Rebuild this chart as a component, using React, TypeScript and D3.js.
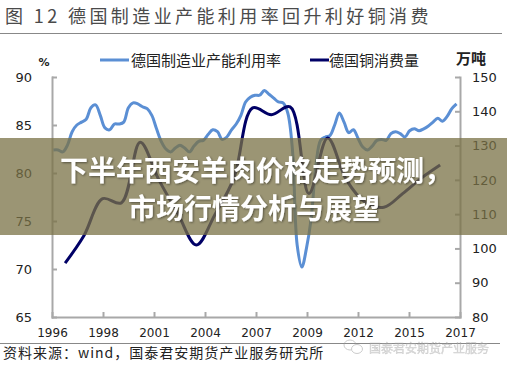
import * as d3 from "d3";
import React from "react";

// 德国制造业产能利用率（季度，%）
const utilStart = 1995.375;
const utilValues = [
  82.4, 82.4, 82.2, 82.9, 84.3, 85.0, 85.3, 85.6, 86.8, 87.1,
  86.0, 84.7, 84.5, 85.1, 85.1, 85.3, 86.8, 87.3, 87.2, 86.9,
  86.7, 86.0, 84.6, 83.3, 82.5, 82.2, 82.6, 82.9, 82.6, 82.2,
  82.8, 83.3, 83.4, 84.0, 84.5, 84.3, 83.5, 83.75, 84.5, 85.1,
  86.0, 87.4, 87.9, 88.1, 88.1, 88.6, 88.2, 87.8, 87.4, 87.3,
  86.25, 82.4, 72.5, 70.2, 72.2, 75.3, 80.8, 83.4, 83.75, 83.9,
  85.0, 86.25, 85.3, 84.2, 84.5, 83.6, 82.7, 82.4, 82.8, 83.4,
  83.5, 83.4, 84.1, 84.3, 84.1, 83.75, 84.4, 84.6, 84.4, 84.6,
  84.9, 85.3, 85.7, 85.4, 85.9, 86.7, 87.2,
];

// 德国铜消费量（年度，万吨）
const copperYears = d3.range(1996, 2017);
const copperValues = [
  95.7, 103.7, 114.5, 113.3, 131, 120, 110.3, 101, 110, 120.5,
  141, 139, 141.3, 116, 132.2, 120, 113.5, 112, 116, 120.5, 124.3,
];

const xTickLabels = ["1996", "1998", "2001", "2004", "2007", "2009", "2012", "2015", "2017"];
const leftTicks = [65, 70, 75, 80, 85, 90];
const rightTicks = [80, 90, 100, 110, 120, 130, 140, 150];

const W = 507;
const H = 374;
const numFont = "'DejaVu Sans', sans-serif";
const cjkFont = "'Noto Sans CJK SC', sans-serif";

export default function App() {
  const ref = React.useRef<SVGSVGElement>(null);

  React.useEffect(() => {
    if (!ref.current) return;
    const svg = d3.select(ref.current);
    svg.selectAll("*").remove();

    const left = 52;
    const right = 460;
    const top = 77;
    const bottom = 317;

    const x = d3.scaleLinear().domain([1995.3, 2017.06]).range([left, right]);
    const xCat = d3.scalePoint<string>().domain(xTickLabels).range([left, right]);
    const yL = d3.scaleLinear().domain([65, 90]).range([bottom, top]);
    const yR = d3.scaleLinear().domain([80, 150]).range([bottom, top]);

    svg.append("rect").attr("width", W).attr("height", H).attr("fill", "#fff");

    const defs = svg.append("defs");
    const f = defs.append("filter").attr("id", "sh").attr("x", "-5%").attr("y", "-20%")
      .attr("width", "110%").attr("height", "140%");
    f.append("feDropShadow").attr("dx", 1).attr("dy", 1).attr("stdDeviation", 1)
      .attr("flood-color", "#000").attr("flood-opacity", 0.45);

    // 标题
    svg.append("text")
      .attr("x", 5).attr("y", 23)
      .attr("font-family", cjkFont).attr("font-size", 18).attr("fill", "#4a4a4a")
      .attr("letter-spacing", 3.4)
      .text("图 12  德国制造业产能利用率回升利好铜消费");
    svg.append("line").attr("x1", 0).attr("x2", 502).attr("y1", 33.5).attr("y2", 33.5)
      .attr("stroke", "#888").attr("stroke-width", 1);

    // 图例
    const lg = svg.append("g").attr("font-family", cjkFont).attr("font-size", 15).attr("fill", "#222");
    lg.append("line").attr("x1", 100).attr("x2", 129).attr("y1", 60).attr("y2", 60)
      .attr("stroke", "#5b8fd4").attr("stroke-width", 3);
    lg.append("text").attr("x", 131).attr("y", 65.5).text("德国制造业产能利用率");
    lg.append("line").attr("x1", 310).attr("x2", 329).attr("y1", 60).attr("y2", 60)
      .attr("stroke", "#000066").attr("stroke-width", 3);
    lg.append("text").attr("x", 329).attr("y", 65.5).text("德国铜消费量");
    svg.append("text").attr("x", 44).attr("y", 66).attr("text-anchor", "middle")
      .attr("font-family", numFont).attr("font-size", 11).attr("font-weight", "bold")
      .attr("fill", "#222").text("%");
    svg.append("text").attr("x", 471).attr("y", 64).attr("text-anchor", "middle")
      .attr("font-family", cjkFont).attr("font-size", 15).attr("font-weight", "bold")
      .attr("fill", "#222").text("万吨");

    // 坐标轴
    const styleAxis = (g: d3.Selection<SVGGElement, unknown, null, undefined>) => {
      g.selectAll("path, line").attr("stroke", "#a8a8a8").attr("stroke-width", 2);
      g.selectAll("text").attr("font-family", numFont).attr("font-size", 13).attr("fill", "#222");
    };
    svg.append("g").attr("transform", `translate(${left},0)`)
      .call(d3.axisLeft(yL).tickValues(leftTicks).tickSize(-5).tickSizeOuter(0).tickPadding(20))
      .call(styleAxis);
    svg.append("g").attr("transform", `translate(${right},0)`)
      .call(d3.axisRight(yR).tickValues(rightTicks).tickSize(-5).tickSizeOuter(0).tickPadding(12))
      .call(styleAxis);
    svg.append("g").attr("transform", `translate(0,${bottom})`)
      .call(d3.axisBottom(xCat).tickSize(-5).tickSizeOuter(0).tickPadding(11))
      .call(styleAxis)
      .selectAll("text").attr("font-size", 12);
    svg.selectAll(".domain").attr("stroke-linecap", "square");

    // 线
    const utilLine = d3.line<number>()
      .x((_, i) => x(utilStart + i * 0.25))
      .y((d) => yL(d))
      .curve(d3.curveCatmullRom.alpha(0.5));
    svg.append("path").datum(utilValues).attr("d", utilLine)
      .attr("fill", "none").attr("stroke", "#5b8fd4").attr("stroke-width", 3)
      .attr("stroke-linejoin", "round");

    const copperLine = d3.line<number>()
      .x((_, i) => x(copperYears[i]))
      .y((d) => yR(d))
      .curve(d3.curveCatmullRom.alpha(0.5));
    svg.append("path").datum(copperValues).attr("d", copperLine)
      .attr("fill", "none").attr("stroke", "#000066").attr("stroke-width", 3)
      .attr("stroke-linejoin", "round");

    // 底部
    svg.append("line").attr("x1", 0).attr("x2", 500).attr("y1", 343.5).attr("y2", 343.5)
      .attr("stroke", "#888").attr("stroke-width", 1);
    svg.append("text").attr("x", 3).attr("y", 358)
      .attr("font-family", cjkFont).attr("font-size", 14).attr("fill", "#222")
      .attr("letter-spacing", 1)
      .text("资料来源：wind，国泰君安期货产业服务研究所");
    const wm = svg.append("g").attr("opacity", 0.5);
    wm.append("ellipse").attr("cx", 350).attr("cy", 345).attr("rx", 6).attr("ry", 5)
      .attr("fill", "none").attr("stroke", "#999").attr("stroke-width", 1);
    wm.append("ellipse").attr("cx", 357).attr("cy", 349).attr("rx", 5.5).attr("ry", 4.5)
      .attr("fill", "#fff").attr("stroke", "#999").attr("stroke-width", 1);
    wm.append("text").attr("x", 369).attr("y", 353)
      .attr("font-family", cjkFont).attr("font-size", 12).attr("fill", "#bbb")
      .attr("stroke", "#999").attr("stroke-width", 0.4)
      .text("国泰君安期货产业服务");

    // 横幅
    svg.append("rect").attr("x", 0).attr("y", 138).attr("width", W).attr("height", 97)
      .attr("fill", "#7a7246").attr("opacity", 0.75);
    const bt = svg.append("g").attr("font-family", cjkFont).attr("font-size", 28)
      .attr("font-weight", "bold").attr("fill", "#fff").attr("text-anchor", "middle")
      .attr("filter", "url(#sh)");
    bt.append("text").attr("x", 256).attr("y", 181).text("下半年西安羊肉价格走势预测，");
    bt.append("text").attr("x", 254).attr("y", 219).text("市场行情分析与展望");
  }, []);

  return (
    <svg
      ref={ref}
      width={W}
      height={H}
      style={{ position: "fixed", left: 0, top: 0, display: "block" }}
    />
  );
}
